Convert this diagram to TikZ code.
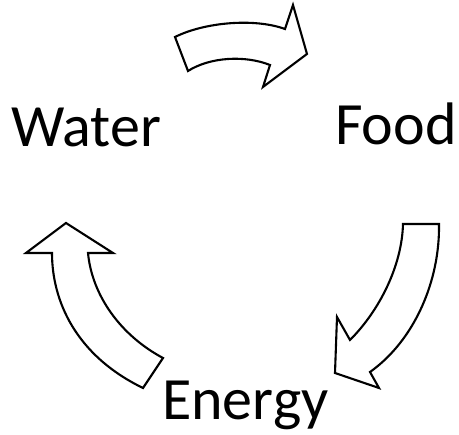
\documentclass[tikz,border=0pt]{standalone}
\usepackage{fontspec}
\setmainfont{Carlito}
\begin{document}
\begin{tikzpicture}[x=1pt,y=-1pt,
  arr/.style={draw=black,fill=white,line width=2.1pt,line join=miter},
  lbl/.style={anchor=base west,inner sep=0pt,font=\fontsize{60}{60}\selectfont}]
\useasboundingbox (0,0) rectangle (459,435);
% top arrow (Water -> Food)
\draw[arr] (175,37) .. controls (205,22) and (255,18) .. (285,29)
  -- (293,5) -- (307,54) -- (263,87) -- (270,65)
  .. controls (245,55) and (210,57) .. (188,71) -- cycle;
% right arrow (Food -> Energy)
\draw[arr] (403,224) -- (439,224)
  .. controls (440,280) and (415,340) .. (370,372)
  -- (379,388) -- (335,373) -- (337,317) -- (350,340)
  .. controls (380,310) and (402,265) .. (403,224) -- cycle;
% left arrow (Energy -> Water)
\draw[arr] (66,223) -- (113,253) -- (88,253)
  .. controls (92,295) and (120,335) .. (163,358)
  -- (143,388)
  .. controls (75,355) and (52,300) .. (52,253)
  -- (26,253) -- cycle;
\node[lbl] (water) at (11,147) {Water};
\node[lbl] (food) at (335,145) {Food};
\node[lbl] (energy) at (162,420) {Energy};
\end{tikzpicture}
\end{document}
